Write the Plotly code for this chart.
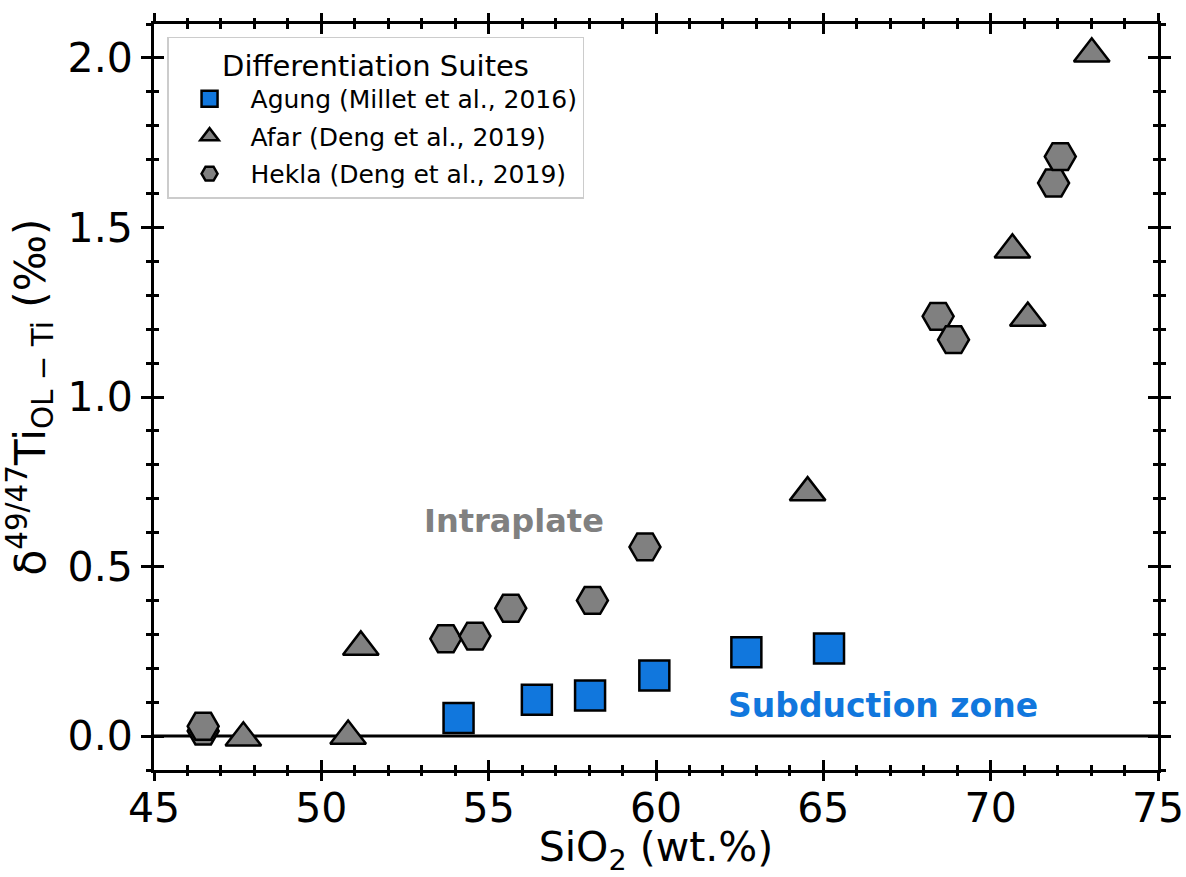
import plotly.graph_objects as go

# SiO2 (wt.%) and delta49/47Ti (OL-Ti, permil) for each differentiation suite
agung_sio2 = [54.10, 56.44, 58.03, 59.95, 62.70, 65.17]
agung_dti = [0.053, 0.107, 0.120, 0.179, 0.247, 0.258]

afar_sio2 = [47.67, 50.80, 51.18, 64.53, 70.65, 71.11, 73.02]
afar_dti = [-0.005, 0.000, 0.263, 0.718, 1.434, 1.233, 2.012]

hekla_sio2 = [46.47, 46.47, 53.72, 54.59, 55.66, 58.10, 59.67, 68.43, 68.89, 71.88, 72.08]
hekla_dti = [0.015, 0.029, 0.287, 0.295, 0.377, 0.400, 0.558, 1.238, 1.169, 1.631, 1.709]

suite_names = [
    "Agung (Millet et al., 2016)",
    "Afar (Deng et al., 2019)",
    "Hekla (Deng et al., 2019)",
]

x_range = [45, 75]
y_range = [-0.1, 2.1]

BLUE = "#1177DD"
GREY = "#808080"
FONT = "DejaVu Sans"

fig = go.Figure()

fig.add_trace(go.Scatter(
    x=agung_sio2, y=agung_dti, mode="markers", name=suite_names[0],
    legendgroup="a",
    marker=dict(symbol="square", size=30, color=BLUE,
                line=dict(color="black", width=2.5)),
))
fig.add_trace(go.Scatter(
    x=afar_sio2, y=afar_dti, mode="markers", name=suite_names[1],
    legendgroup="b",
    marker=dict(symbol="triangle-up", size=31, color=GREY,
                line=dict(color="black", width=2.5)),
))
fig.add_trace(go.Scatter(
    x=hekla_sio2, y=hekla_dti, mode="markers", name=suite_names[2],
    legendgroup="c",
    marker=dict(symbol="hexagon2", size=31, color=GREY,
                line=dict(color="black", width=2.5)),
))
# empty trace so the overlaid axis pair (second tick direction) is drawn
fig.add_trace(go.Scatter(x=[], y=[], xaxis="x2", yaxis="y2",
                         showlegend=False, hoverinfo="skip"))

# zero reference line
fig.add_shape(type="line", xref="paper", yref="y", x0=0, x1=1, y0=0, y1=0,
              line=dict(color="black", width=3), layer="below")

fig.add_annotation(x=55.75, y=0.633, xref="x", yref="y", text="<b>Intraplate</b>",
                   showarrow=False, font=dict(family=FONT, size=32, color=GREY))
fig.add_annotation(x=66.77, y=0.09, xref="x", yref="y", text="<b>Subduction zone</b>",
                   showarrow=False, font=dict(family=FONT, size=33, color=BLUE))

tick_common = dict(tickcolor="black", tickwidth=3, showgrid=False, zeroline=False)

fig.update_layout(
    width=1186, height=877,
    margin=dict(l=154, r=28, t=24, b=107),
    paper_bgcolor="white", plot_bgcolor="white",
    font=dict(family=FONT, color="black"),
    showlegend=True,
    # x: labelled axis carries the inward ticks, overlay carries the outward ones
    xaxis=dict(
        range=x_range, tick0=45, dtick=5, ticks="inside", ticklen=10,
        showline=True, linewidth=3, linecolor="black", mirror="allticks",
        tickfont=dict(size=41), automargin=False,
        minor=dict(ticks="inside", ticklen=5, tickwidth=3, dtick=1, tickcolor="black"),
        title=dict(text="SiO<sub>2</sub> (wt.%)", font=dict(size=41), standoff=16),
        **tick_common,
    ),
    yaxis=dict(
        range=y_range, tick0=0, dtick=0.5, ticks="outside", ticklen=10,
        showline=True, linewidth=3, linecolor="black", mirror="allticks",
        tickfont=dict(size=41), tickformat=".1f", automargin=False,
        minor=dict(ticks="outside", ticklen=5, tickwidth=3, dtick=0.1, tickcolor="black"),
        title=dict(text="δ<sup>49/47</sup>Ti<sub>OL − Ti</sub> (‰)", font=dict(size=42),
                   standoff=12),
        **tick_common,
    ),
    xaxis2=dict(
        overlaying="x", anchor="y2", range=x_range, tick0=45, dtick=5,
        ticks="outside", ticklen=10, mirror="allticks", showticklabels=False,
        showline=False,
        minor=dict(ticks="outside", ticklen=5, tickwidth=3, dtick=1, tickcolor="black"),
        **tick_common,
    ),
    yaxis2=dict(
        overlaying="y", anchor="x2", range=y_range, tick0=0, dtick=0.5,
        ticks="inside", ticklen=10, mirror="allticks", showticklabels=False,
        showline=False,
        minor=dict(ticks="inside", ticklen=5, tickwidth=3, dtick=0.1, tickcolor="black"),
        **tick_common,
    ),
    legend=dict(
        x=0.013, y=0.983, xanchor="left", yanchor="top",
        bgcolor="white", bordercolor="#CCCCCC", borderwidth=1.5,
        font=dict(size=25), traceorder="grouped", tracegroupgap=2,
        itemwidth=72,
        title=dict(text="Differentiation Suites", font=dict(size=29), side="top center"),
    ),
)

fig.write_html("out.html")
